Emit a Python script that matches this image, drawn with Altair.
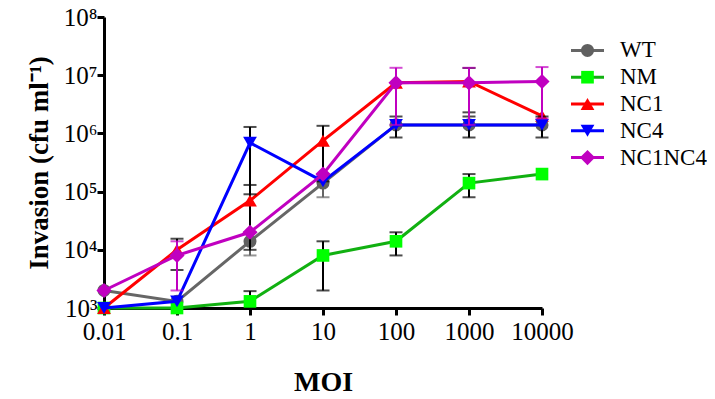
import altair as alt
import pandas as pd

moi = [0.01, 0.1, 1, 10, 100, 1000, 10000]
series = ["WT", "NM", "NC1", "NC4", "NC1NC4"]

wt = [2000, 1300, 14000, 140000, 1.4e6, 1.4e6, 1.4e6]
wt_sd = [0, 0, 6000, 60000, 0, 0, 0]
nm = [1000, 1000, 1300, 8000, 14000, 140000, 200000]
nm_sd = [0, 0, 650, 6000, 6000, 60000, 0]
nc1 = [1000, 10000, 70000, 750000, 7.4e6, 7.8e6, 2.0e6]
nc1_sd = [0, 5500, 60000, 600000, 0, 5.5e6, 0]
nc4 = [1000, 1300, 690000, 150000, 1.4e6, 1.4e6, 1.4e6]
nc4_sd = [0, 0, 600000, 0, 550000, 550000, 550000]
nc1nc4 = [2000, 8000, 20000, 200000, 7.4e6, 7.4e6, 7.8e6]
nc1nc4_sd = [0, 6000, 0, 0, 6e6, 6e6, 6e6]

values = [wt, nm, nc1, nc4, nc1nc4]
sds = [wt_sd, nm_sd, nc1_sd, nc4_sd, nc1nc4_sd]
line_colors = ["#666666", "#11b011", "#ff0000", "#0000ff", "#c000c0"]
marker_colors = ["#606060", "#00ff00", "#ff0000", "#0000ff", "#c000c0"]
err_colors = ["#666666", "#000000", "#000000", "#000000", "#c000c0"]
shapes = ["circle", "square", "triangle-up", "triangle-down", "diamond"]
sizes = [170, 160, 190, 190, 230]

FONT = "Liberation Serif"

xscale = alt.Scale(type="log", domain=[0.01, 10000], nice=False)
yscale = alt.Scale(type="log", domain=[1000, 1e8], nice=False, clamp=True)

common_axis = dict(
    domainColor="black", domainWidth=3, tickColor="black", tickWidth=3, tickSize=7,
    labelFont=FONT, labelFontSize=25, labelColor="black",
    titleFont=FONT, titleFontWeight="bold", titleColor="black", grid=False,
    labelFlush=False, labelOverlap=False, labelBound=False,
)
x_axis = alt.Axis(
    values=moi,
    labelExpr="datum.value >= 1 ? format(datum.value, 'd') : format(datum.value, '.2~f')",
    title="MOI", titleFontSize=28, titlePadding=24, labelPadding=4,
    **common_axis,
)
y_axis = alt.Axis(
    values=[1e3, 1e4, 1e5, 1e6, 1e7, 1e8],
    labelExpr="'10' + ['³','⁴','⁵','⁶','⁷','⁸'][round(log(datum.value)/LN10) - 3]",
    title="Invasion (cfu ml⁻¹)", titleFontSize=27, titlePadding=10, labelPadding=0,
    **common_axis,
)

layers = []
for i, s in enumerate(series):
    df = pd.DataFrame({
        "moi": moi,
        "value": values[i],
        "lo": [max(v - e, 1000) for v, e in zip(values[i], sds[i])],
        "hi": [v + e for v, e in zip(values[i], sds[i])],
        "sd": sds[i],
    })
    X = lambda f: alt.X(f, scale=xscale, axis=x_axis)
    Y = lambda f: alt.Y(f, scale=yscale, axis=y_axis)
    base = alt.Chart(df)
    line = base.mark_line(color=line_colors[i], strokeWidth=3).encode(x=X("moi:Q"), y=Y("value:Q"))
    edf = base.transform_filter("datum.sd > 0")
    rule = edf.mark_rule(color=err_colors[i], strokeWidth=2).encode(
        x=X("moi:Q"), y=Y("lo:Q"), y2="hi:Q",
    )
    cap_hi = edf.mark_tick(color=err_colors[i], thickness=2, size=13, orient="horizontal").encode(
        x=X("moi:Q"), y=Y("hi:Q"),
    )
    cap_lo = edf.transform_filter("datum.value - datum.sd >= 1000").mark_tick(
        color=err_colors[i], thickness=2, size=13, orient="horizontal").encode(
        x=X("moi:Q"), y=Y("lo:Q"),
    )
    pts = base.mark_point(filled=True, opacity=1, color=marker_colors[i],
                          shape=shapes[i], size=sizes[i]).encode(
        x=X("moi:Q"), y=Y("value:Q"),
    )
    layers += [line, rule, cap_hi, cap_lo, pts]

main = alt.layer(*layers)

leg_df = pd.DataFrame({
    "series": series,
    "lc": line_colors,
    "mc": marker_colors,
    "shape": shapes,
    "size": sizes,
})
leg_y = alt.Y("series:N", sort=series,
              scale=alt.Scale(domain=series, range=[20, 154], padding=0), axis=None)
leg_base = alt.Chart(leg_df)
leg_rule = leg_base.mark_rule(strokeWidth=3).encode(
    x=alt.value(467), x2=alt.value(500), y=leg_y,
    color=alt.Color("lc:N", scale=None),
)
leg_pt = leg_base.mark_point(filled=True, opacity=1).encode(
    x=alt.value(483.5), y=leg_y,
    color=alt.Color("mc:N", scale=None),
    shape=alt.Shape("shape:N", scale=None),
    size=alt.Size("size:Q", scale=None),
)
leg_txt = leg_base.mark_text(align="left", baseline="middle", font=FONT, fontSize=23, color="black").encode(
    x=alt.value(516), y=leg_y, text="series:N",
)
legend = alt.layer(leg_rule, leg_pt, leg_txt)

chart = alt.layer(main, legend).resolve_scale(y="independent").properties(
    width=438, height=291,
    autosize=alt.AutoSizeParams(type="none"),
    padding={"left": 96, "top": 9, "right": 165, "bottom": 90},
).configure_view(stroke=None)

chart.save("out.html", embed_options={"renderer": "svg", "actions": False})
